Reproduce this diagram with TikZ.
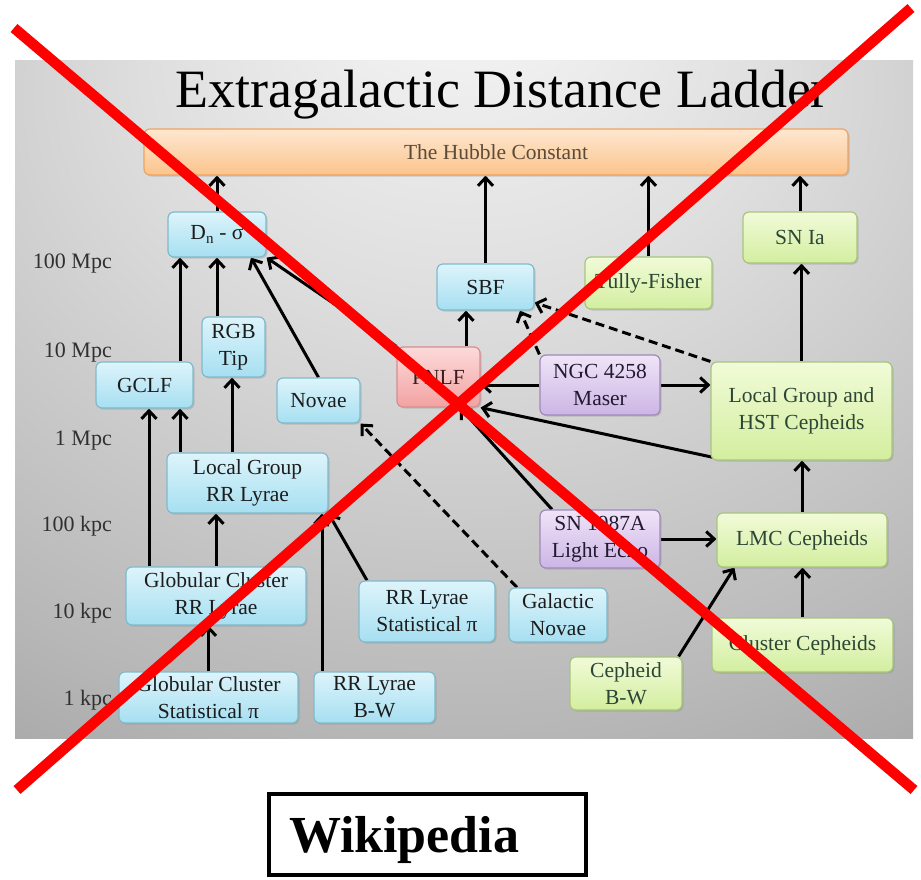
\documentclass[tikz,border=0pt]{standalone}
\usepackage{fontspec}
\setmainfont{Liberation Serif}
\usetikzlibrary{arrows.meta,shadows}
\definecolor{bluetop}{HTML}{DDF4FB}
\definecolor{bluebot}{HTML}{A6DFF1}
\definecolor{bluedraw}{HTML}{80BACB}
\definecolor{bluetext}{HTML}{1C1C1C}
\definecolor{grtop}{HTML}{F1FBD8}
\definecolor{grbot}{HTML}{D3EE9F}
\definecolor{grdraw}{HTML}{A8C57E}
\definecolor{grtext}{HTML}{2C4636}
\definecolor{purtop}{HTML}{F0E4F8}
\definecolor{purbot}{HTML}{CCB5E5}
\definecolor{purdraw}{HTML}{9E8ABA}
\definecolor{purtext}{HTML}{221A30}
\definecolor{pinktop}{HTML}{FCDADA}
\definecolor{pinkbot}{HTML}{F3A2A2}
\definecolor{pinkdraw}{HTML}{D78E8E}
\definecolor{pinktext}{HTML}{3A1C1C}
\definecolor{ortop}{HTML}{FEE7D0}
\definecolor{orbot}{HTML}{FBC48C}
\definecolor{ordraw}{HTML}{F0A35F}
\definecolor{ortext}{HTML}{5C4A38}
\definecolor{labeltext}{HTML}{303030}
\definecolor{xred}{HTML}{FF0000}
\definecolor{bgA}{gray}{0.97}
\definecolor{bgB}{gray}{0.87}
\definecolor{bgC}{gray}{0.72}
\definecolor{bgD}{gray}{0.56}
\definecolor{bgE}{gray}{0.46}
\pgfdeclareradialshading{bgshade}{\pgfpoint{0bp}{32bp}}{color(0bp)=(bgA); color(18bp)=(bgB); color(40bp)=(bgC); color(60bp)=(bgD); color(80bp)=(bgE)}
\pgfdeclarelayer{bglayer}
\pgfdeclarelayer{edgelayer}
\pgfsetlayers{bglayer,edgelayer,main}
\tikzset{
  box/.style={rounded corners=6pt, line width=1.2pt, inner sep=0pt, align=center,
    font=\fontsize{21.5}{27}\selectfont,
    drop shadow={shadow xshift=1.5pt, shadow yshift=-1.5pt, opacity=0.3}},
  sz/.style 2 args={minimum width=#1pt, minimum height=#2pt},
  bluebox/.style={box, draw=bluedraw, top color=bluetop, bottom color=bluebot, text=bluetext},
  grbox/.style={box, draw=grdraw, top color=grtop, bottom color=grbot, text=grtext},
  purbox/.style={box, draw=purdraw, top color=purtop, bottom color=purbot, text=purtext},
  pinkbox/.style={box, draw=pinkdraw, top color=pinktop, bottom color=pinkbot, text=pinktext},
  orbox/.style={box, draw=ordraw, top color=ortop, bottom color=orbot, text=ortext},
  arr/.style={line width=3pt, -{Straight Barb[length=8pt,width=15pt]}},
  darr/.style={arr, dash pattern=on 9pt off 5pt},
  scalelabel/.style={anchor=base east, text=labeltext, font=\fontsize{22}{26}\selectfont, inner sep=0pt},
}
\begin{document}
\begin{tikzpicture}[x=1pt,y=-1pt]
\useasboundingbox (0,0) rectangle (921,879);
\begin{pgfonlayer}{bglayer}
\fill[white] (0,0) rectangle (921,879);
\shade[shading=bgshade] (15,60) rectangle (913,738);
\end{pgfonlayer}

\node[anchor=base, font=\fontsize{54}{60}\selectfont, inner sep=0pt] (title) at (502,107) {Extragalactic Distance Ladder};

\node[scalelabel] (l1) at (112,268) {100 Mpc};
\node[scalelabel] (l2) at (112,357) {10 Mpc};
\node[scalelabel] (l3) at (112,445) {1 Mpc};
\node[scalelabel] (l4) at (112,531) {100 kpc};
\node[scalelabel] (l5) at (112,618) {10 kpc};
\node[scalelabel] (l6) at (112,705) {1 kpc};

\node[orbox, sz={704}{46}] (hub) at (496,152) {The Hubble Constant};
\node[bluebox, sz={98}{45}] (dn) at (217,234.5) {D\textsubscript{n} - σ};
\node[bluebox, sz={63}{60}] (rgb) at (233.5,347) {RGB\\Tip};
\node[bluebox, sz={97}{46}] (gclf) at (144.5,385) {GCLF};
\node[bluebox, sz={83}{45}] (novae) at (318.5,400.5) {Novae};
\node[bluebox, sz={161}{60}] (lgrr) at (247.5,483) {Local Group\\RR Lyrae};
\node[bluebox, sz={180}{58}] (gcrr) at (216,596) {Globular Cluster\\RR Lyrae};
\node[bluebox, sz={179}{51}] (gcsp) at (208.5,697.5) {Globular Cluster\\Statistical π};
\node[bluebox, sz={121}{51}] (rrbw) at (374.5,697.5) {RR Lyrae\\B-W};
\node[bluebox, sz={136}{61}] (rrsp) at (427,611.5) {RR Lyrae\\Statistical π};
\node[bluebox, sz={98}{54}] (galn) at (558,615) {Galactic\\Novae};
\node[pinkbox, sz={83}{60}] (pnlf) at (438.5,377) {PNLF};
\node[bluebox, sz={97}{46}] (sbf) at (485.5,287) {SBF};
\node[purbox, sz={120}{60}] (ngc) at (600,385) {NGC 4258\\Maser};
\node[purbox, sz={120}{58}] (sn87) at (600,539) {SN 1987A\\Light Echo};
\node[grbox, sz={127}{52}] (tf) at (648.5,283) {Tully-Fisher};
\node[grbox, sz={114}{51}] (snia) at (800,237.5) {SN Ia};
\node[grbox, sz={181}{98}] (lghst) at (801.5,411) {Local Group and\\HST Cepheids};
\node[grbox, sz={170}{54}] (lmc) at (802,540) {LMC Cepheids};
\node[grbox, sz={181}{54}] (clc) at (802.5,645) {Cluster Cepheids};
\node[grbox, sz={112}{53}] (cbw) at (626,683.5) {Cepheid\\B-W};

\begin{pgfonlayer}{edgelayer}
\draw[arr] (dn.north) -- (dn.north |- hub.south);
\draw[arr] (sbf.north) -- (sbf.north |- hub.south);
\draw[arr] (tf.north) -- (tf.north |- hub.south);
\draw[arr] (snia.north) -- (snia.north |- hub.south);
\draw[arr] ([xshift=35.5pt]gclf.north) -- ([xshift=35.5pt]gclf.north |- dn.south);
\draw[arr] ([xshift=-16.5pt]rgb.north) -- ([xshift=-16.5pt]rgb.north |- dn.south);
\draw[arr] (novae.north) -- ([xshift=34pt]dn.south);
\draw[arr] (pnlf.north west) -- (dn.south east);
\draw[arr] ([xshift=-67pt]gcrr.north) -- ([xshift=-67pt]gcrr.north |- gclf.south);
\draw[arr] ([xshift=-67.5pt]lgrr.north) -- ([xshift=-67.5pt]lgrr.north |- gclf.south);
\draw[arr] ([xshift=-15.5pt]lgrr.north) -- ([xshift=-15.5pt]lgrr.north |- rgb.south);
\draw[arr] (gcrr.north) -- (gcrr.north |- lgrr.south);
\draw[arr] (gcsp.north) -- (gcsp.north |- gcrr.south);
\draw[arr] ([xshift=-52.5pt]rrbw.north) -- ([xshift=-52.5pt]rrbw.north |- lgrr.south);
\draw[arr] ([xshift=-60pt]rrsp.north) -- (lgrr.south east);
\draw[darr] ([xshift=-41pt]galn.north) -- (novae.south east);
\draw[arr] ([xshift=27.5pt]pnlf.north) -- ([xshift=27.5pt]pnlf.north |- sbf.south);
\draw[darr] (ngc.north west) -- ([xshift=34.5pt]sbf.south);
\draw[darr] (lghst.north west) -- ([yshift=8pt]sbf.south east);
\draw[arr] (ngc.west) -- (ngc.west -| pnlf.east);
\draw[arr] (ngc.east) -- (ngc.east -| lghst.west);
\draw[arr] ([xshift=4pt,yshift=3pt]lghst.south west) -- (pnlf.south east);
\draw[arr] ([xshift=-48pt]sn87.north) -- ([xshift=21.5pt]pnlf.south);
\draw[arr] (sn87.east) -- (sn87.east -| lmc.west);
\draw[arr] (lmc.north) -- (lmc.north |- lghst.south);
\draw[arr] (lghst.north) -- (lghst.north |- snia.south);
\draw[arr] (clc.north) -- (clc.north |- lmc.south);
\draw[arr] ([xshift=-4pt]cbw.north east) -- ([xshift=18pt]lmc.south west);
\end{pgfonlayer}

\node[draw, line width=4pt, anchor=west, minimum height=81pt, text width=277pt,
  inner xsep=20pt, inner ysep=0pt, align=left, text height=36pt, text depth=1pt,
  font=\bfseries\fontsize{52}{60}\selectfont] (wiki) at (267,834.5) {Wikipedia};

\draw[xred, line width=10.5pt] (14,28) -- (914,790);
\draw[xred, line width=10.5pt] (911,8) -- (17,790);
\end{tikzpicture}
\end{document}
